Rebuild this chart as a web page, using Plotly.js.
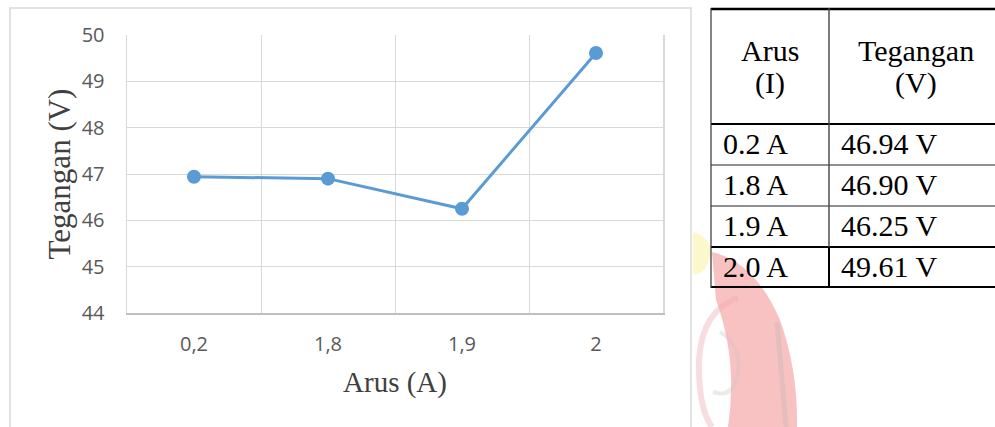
<!DOCTYPE html>
<html>
<head>
<meta charset="utf-8">
<script src="https://cdn.plot.ly/plotly-3.0.1.min.js"></script>
<style>
  html, body { margin: 0; padding: 0; background: #ffffff; }
  #chart { width: 995px; height: 427px; }
</style>
</head>
<body>
<div id="chart"></div>
<script>
// Measured current (A) and voltage (V)
const arusLabels = ['0,2', '1,8', '1,9', '2'];
const arusValues = [0.2, 1.8, 1.9, 2.0];
const teganganValues = [46.94, 46.90, 46.25, 49.61];
const yTickValues = [44, 45, 46, 47, 48, 49, 50];

// Page geometry (pixels)
const W = 995, H = 427;
const M = { l: 127, r: 332, t: 35, b: 114 };
const plotW = W - M.l - M.r;
const plotH = H - M.t - M.b;
const px = x => (x - M.l) / plotW;
const py = y => (H - M.b - y) / plotH;

const serif = '"Liberation Serif", "Times New Roman", serif';
const sans = '"Open Sans", "Liberation Sans", sans-serif';

const trace = {
  type: 'scatter',
  mode: 'lines+markers',
  x: arusLabels,
  y: teganganValues,
  line: { color: '#5b9bd5', width: 3 },
  marker: { color: '#5b9bd5', size: 14 },
  hoverinfo: 'x+y',
  showlegend: false
};

const shapes = [];
const annotations = [];

// Chart frame
shapes.push({
  type: 'rect', xref: 'paper', yref: 'paper',
  x0: px(10), x1: px(691), y0: py(8), y1: py(440),
  line: { color: '#d9d9d9', width: 1.5 }, fillcolor: 'rgba(0,0,0,0)', layer: 'below'
});

// Faint emblem behind the table
shapes.push({
  type: 'path', xref: 'paper', yref: 'paper', layer: 'below',
  path: `M ${px(693)},${py(232)} Q ${px(714)},${py(238)} ${px(710)},${py(258)} Q ${px(704)},${py(276)} ${px(693)},${py(274)} Z`,
  fillcolor: 'rgba(250,244,170,0.6)', line: { width: 0 }
});
shapes.push({
  type: 'path', xref: 'paper', yref: 'paper', layer: 'below',
  path: `M ${px(712)},${py(252)} Q ${px(755)},${py(262)} ${px(780)},${py(320)} Q ${px(798)},${py(370)} ${px(797)},${py(427)} L ${px(728)},${py(427)} Q ${px(738)},${py(360)} ${px(716)},${py(300)} Z`,
  fillcolor: 'rgba(242,120,120,0.45)', line: { width: 0 }
});
shapes.push({
  type: 'path', xref: 'paper', yref: 'paper', layer: 'below',
  path: `M ${px(738)},${py(298)} Q ${px(702)},${py(310)} ${px(699)},${py(360)} Q ${px(698)},${py(408)} ${px(712)},${py(427)}`,
  fillcolor: 'rgba(0,0,0,0)', line: { color: 'rgba(238,170,178,0.4)', width: 6 }
});
shapes.push({
  type: 'path', xref: 'paper', yref: 'paper', layer: 'below',
  path: `M ${px(720)},${py(332)} Q ${px(744)},${py(346)} ${px(737)},${py(380)} Q ${px(730)},${py(398)} ${px(713)},${py(392)}`,
  fillcolor: 'rgba(0,0,0,0)', line: { color: 'rgba(205,195,195,0.35)', width: 4 }
});
shapes.push({
  type: 'line', xref: 'paper', yref: 'paper', layer: 'below',
  x0: px(777), y0: py(322), x1: px(786), y1: py(427),
  line: { color: 'rgba(180,180,180,0.3)', width: 5 }
});

// Table rules
const tLeft = 711, tMid = 829, tRight = 1000;
const rowEdges = [124, 165, 206, 247, 287];
const hLine = (y, w, c) => shapes.push({
  type: 'line', xref: 'paper', yref: 'paper', x0: px(tLeft), x1: px(tRight), y0: py(y), y1: py(y),
  line: { color: c, width: w }
});
hLine(9, 2.5, '#000000');
hLine(124, 2, '#000000');
hLine(165, 1.2, '#222222');
hLine(206, 1.2, '#222222');
hLine(247, 1.8, '#000000');
hLine(287, 2.2, '#000000');
shapes.push({ type: 'line', xref: 'paper', yref: 'paper', x0: px(tLeft), x1: px(tLeft), y0: py(8), y1: py(288),
  line: { color: '#333333', width: 1.2 } });
shapes.push({ type: 'line', xref: 'paper', yref: 'paper', x0: px(tMid), x1: px(tMid), y0: py(8), y1: py(247),
  line: { color: '#444444', width: 1.4 } });
shapes.push({ type: 'line', xref: 'paper', yref: 'paper', x0: px(tMid), x1: px(tMid), y0: py(247), y1: py(288),
  line: { color: '#000000', width: 2 } });

// Table text
const tFont = { family: serif, size: 30, color: '#000000' };
const addText = (text, x, y, anchor) => annotations.push({
  xref: 'paper', yref: 'paper', x: px(x), y: py(y), text, showarrow: false,
  xanchor: anchor, yanchor: 'middle', font: tFont
});
addText('Arus', 770, 50, 'center');
addText('(I)', 770, 83, 'center');
addText('Tegangan', 916, 50, 'center');
addText('(V)', 916, 83, 'center');
arusValues.forEach((a, i) => {
  const yc = (rowEdges[i] + rowEdges[i + 1]) / 2 - 1;
  addText(a.toFixed(1) + ' A', 721, yc, 'left');
  addText(teganganValues[i].toFixed(2) + ' V', 839, yc, 'left');
});

const layout = {
  width: W, height: H,
  margin: M,
  paper_bgcolor: '#ffffff',
  plot_bgcolor: '#ffffff',
  showlegend: false,
  xaxis: {
    type: 'category',
    range: [-0.5, arusLabels.length - 0.5],
    tickson: 'boundaries',
    showgrid: true, gridcolor: '#d9d9d9', gridwidth: 1,
    showline: true, linecolor: '#bfbfbf', linewidth: 1.5,
    ticks: '', ticklabelstandoff: 12,
    tickfont: { family: sans, size: 20, color: '#595959' },
    title: { text: 'Arus (A)', font: { family: serif, size: 29, color: '#404040' }, standoff: 16 },
    fixedrange: true
  },
  yaxis: {
    range: [44, 50],
    tickvals: yTickValues,
    showgrid: true, gridcolor: '#d9d9d9', gridwidth: 1,
    zeroline: false,
    showline: true, mirror: true, linecolor: '#d9d9d9', linewidth: 1.5,
    ticks: 'outside', ticklen: 17, tickcolor: 'rgba(0,0,0,0)',
    tickfont: { family: sans, size: 20, color: '#595959' },
    title: { text: 'Tegangan (V)', font: { family: serif, size: 31, color: '#404040' }, standoff: 2 },
    fixedrange: true
  },
  shapes, annotations
};

Plotly.newPlot('chart', [trace], layout, { displayModeBar: false, staticPlot: true });
</script>
</body>
</html>
